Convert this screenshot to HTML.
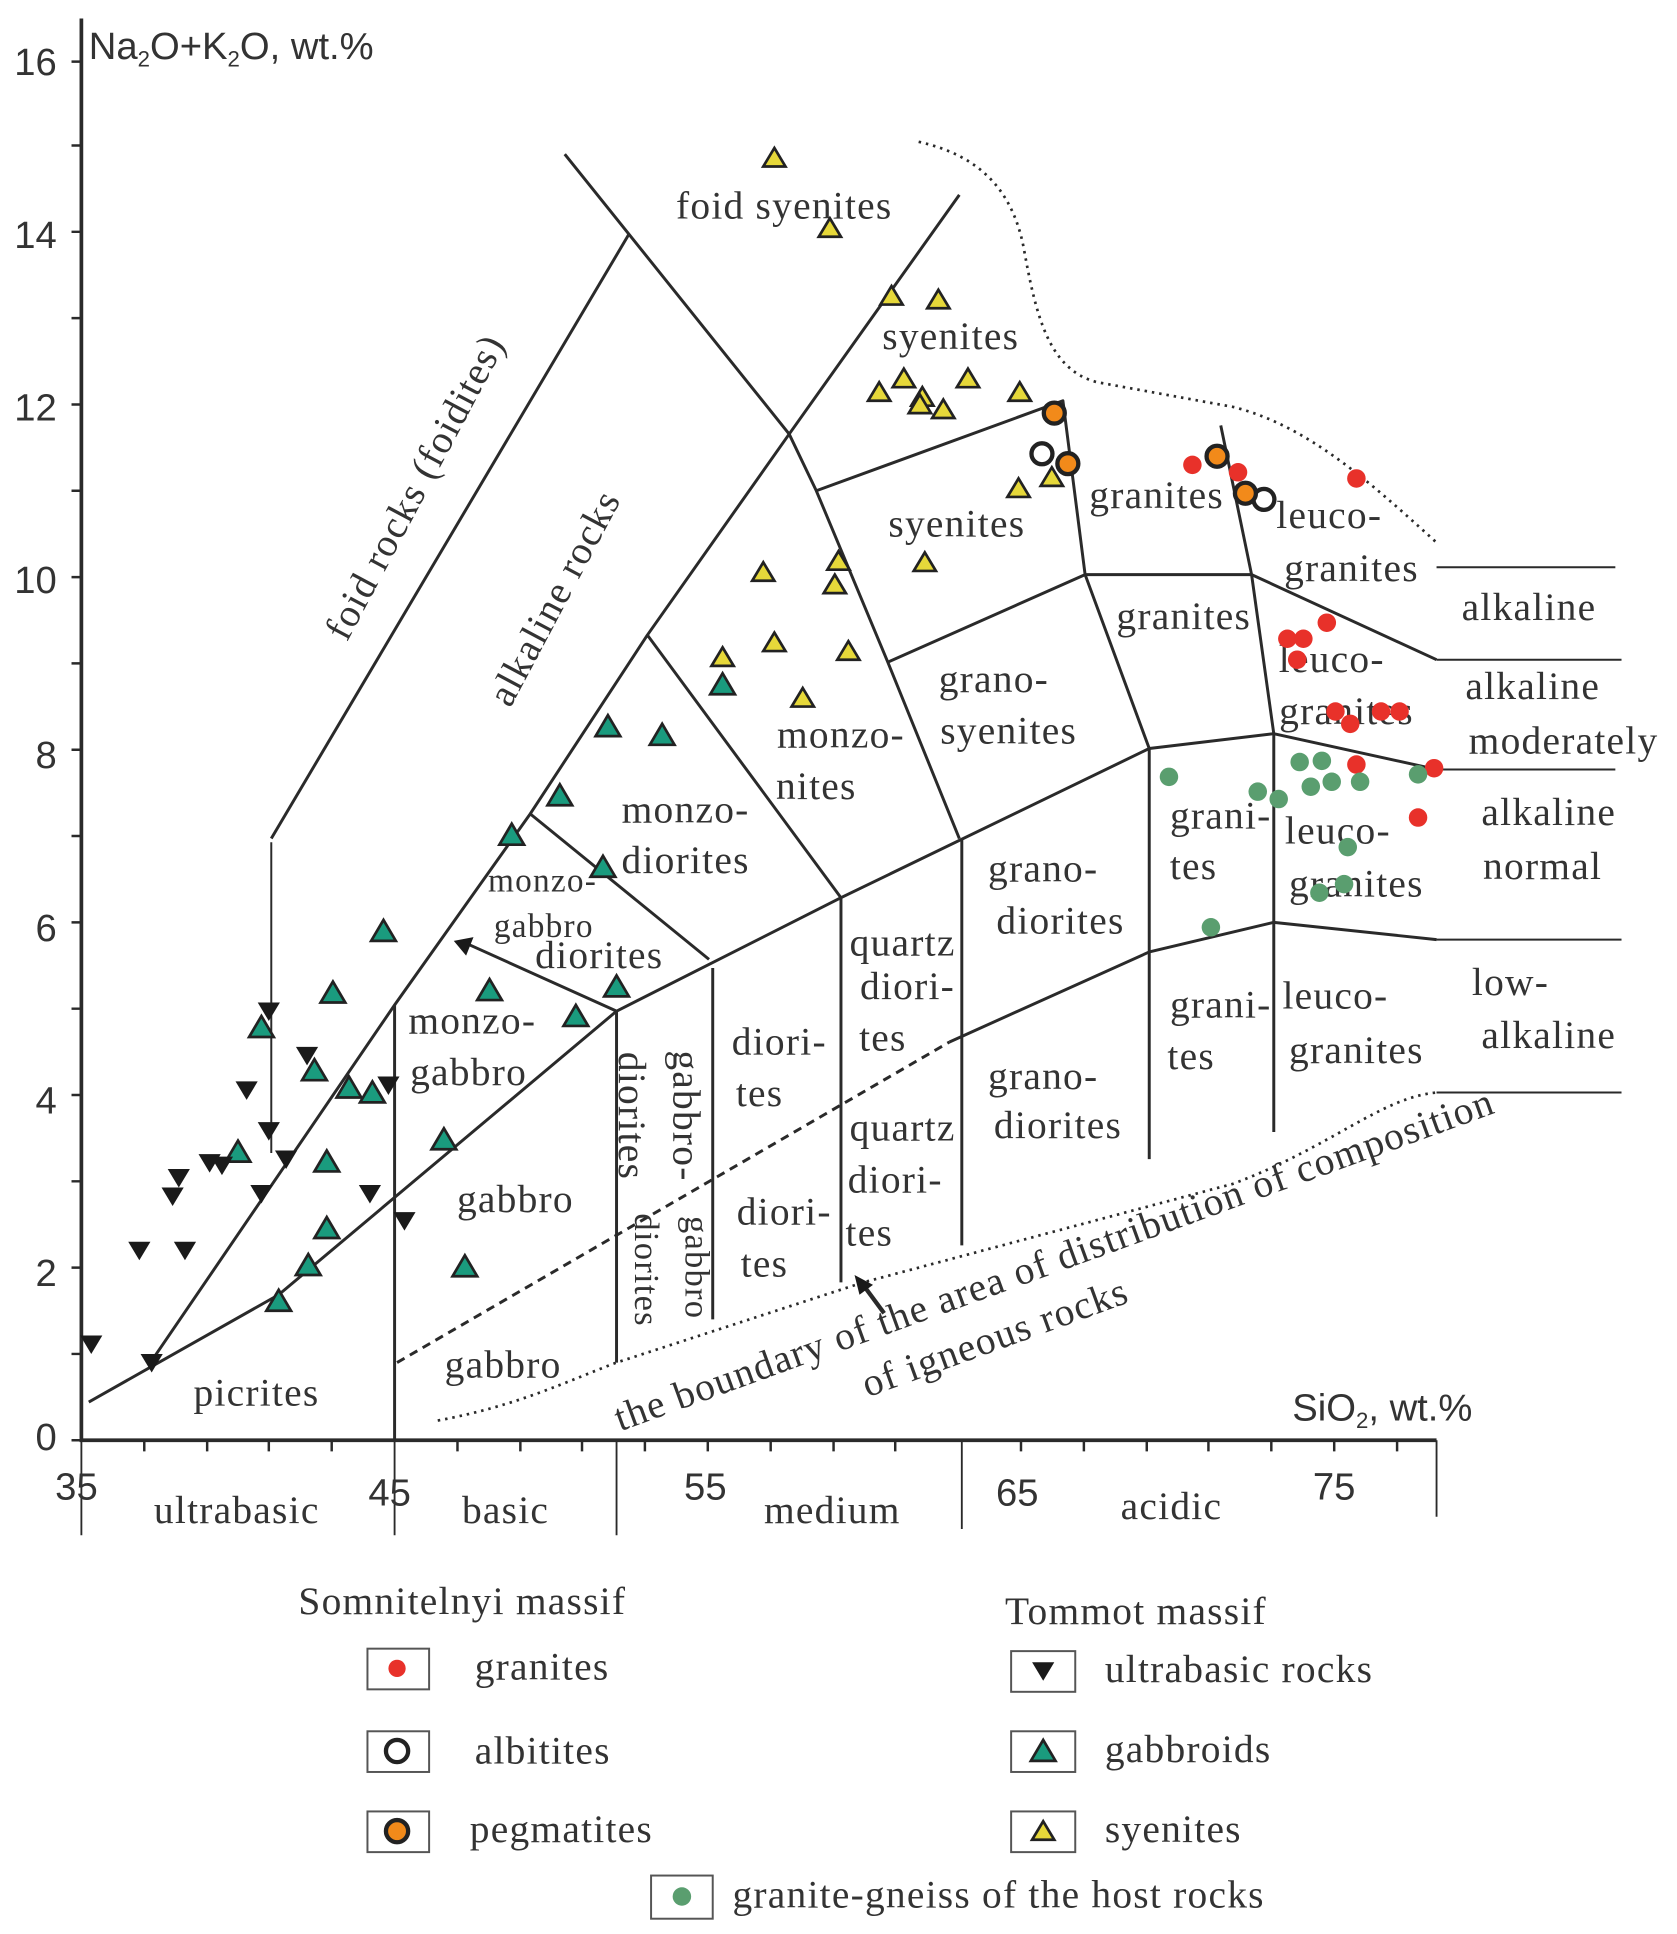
<!DOCTYPE html>
<html><head><meta charset="utf-8"><style>html,body{margin:0;padding:0;background:#fff}svg{display:block}</style></head>
<body>
<svg width="1677" height="1934" viewBox="0 0 1360 1568.4" preserveAspectRatio="none" xmlns="http://www.w3.org/2000/svg">
<defs>
<symbol id="yt" viewBox="-10 -10 20 20" overflow="visible"><polygon points="0,-8 9,7 -9,7" fill="#e6d83a" stroke="#222" stroke-width="2.2"/></symbol>
<symbol id="gt" viewBox="-10 -10 20 20" overflow="visible"><polygon points="0,-9 10,8 -10,8" fill="#1a9b7e" stroke="#222" stroke-width="2.2"/></symbol>
<symbol id="bt" viewBox="-10 -10 20 20" overflow="visible"><polygon points="-9,-7 9,-7 0,8" fill="#1a1a1a"/></symbol>
</defs>
<g stroke="#2a2a2a" fill="none" stroke-width="2.2">
<path d="M66,15 V1168 H1165" stroke-width="3"/>
<path d="M66,1168 V1245 M320,1168 V1245 M500,1168 V1245 M780,1168 V1240 M1165,1168 V1230" stroke-width="1.5"/>
</g>
<g stroke="#2a2a2a" stroke-width="2">
<path d="M58,1098H66M58,1028H66M58,958H66M58,888H66M58,818H66M58,748H66M58,678H66M58,608H66M58,538H66M58,468H66M58,398H66M58,328H66M58,258H66M58,188H66M58,118H66M58,50H66M58,1168H66"/>
<path d="M117,1168v9M168,1168v9M218,1168v9M269,1168v9M371,1168v9M422,1168v9M472,1168v9M523,1168v9M574,1168v9M625,1168v9M676,1168v9M726,1168v9M828,1168v9M879,1168v9M930,1168v9M980,1168v9M1031,1168v9M1082,1168v9M1133,1168v9"/>
</g>
<g stroke="#2a2a2a" fill="none" stroke-width="2.4" stroke-linejoin="round">
<path d="M220,680 L510,190"/>
<path d="M220,683 V935" stroke-width="1.6"/>
<path d="M122,1105 L320,815 L430,660 L525,515 L640,352 L778,158"/>
<path d="M72,1137 L226,1050 L500,820"/>
<path d="M500,820 L682,728 L932,607 L1033,595 L1165,624"/>
<path d="M458,125 L640,352 L662,398 L720,537 L778,680"/>
<path d="M662,398 L862,325 L880,466 L932,607"/>
<path d="M720,537 L880,466 L1015,466 L1165,535"/>
<path d="M990,345 L1015,466 L1033,595"/>
<path d="M430,660 L575,778"/>
<path d="M525,515 L682,728"/>
<path d="M500,820 L378,765"/>
<path d="M320,815 V1168 M500,820 V1105 M578,785 V1070 M682,728 V1040 M780,680 V1010 M932,607 V940 M1033,595 V918"/>
<path d="M770,845 L932,772 L1033,748 L1165,762"/>
<path d="M322,1105 L770,845" stroke-dasharray="7,5"/>
<path d="M1165,460H1310M1165,535H1315M1165,624H1310M1165,762H1315M1165,886H1315" stroke-width="1.6"/>
<path d="M355,1152 C420,1140 460,1120 500,1105 L700,1040 L1000,960 C1080,930 1120,890 1165,886" stroke-dasharray="2,4" stroke-width="2.2"/>
<path d="M745,115 C790,125 820,150 830,200 C840,255 850,300 890,310 L1000,330 C1060,345 1110,390 1165,440" stroke-dasharray="2,4" stroke-width="2.2"/>
<path d="M717,1065 L700,1042" stroke-width="3.5"/>
</g>
<polygon points="368,763 384,760 378,775" fill="#1a1a1a"/>
<polygon points="693,1034 708,1042 697,1050" fill="#1a1a1a"/>
<g font-family="Liberation Serif, serif" font-size="32" letter-spacing="1" fill="#333" text-anchor="middle">
<text x="636" y="177">foid syenites</text>
<text x="771" y="283">syenites</text>
<text x="776" y="435">syenites</text>
<text x="938" y="412">granites</text>
<text x="1078" y="428">leuco-</text>
<text x="1096" y="471">granites</text>
<text x="960" y="510">granites</text>
<text x="1240" y="503">alkaline</text>
<text x="1080" y="545">leuco-</text>
<text x="1092" y="587">granites</text>
<text x="1243" y="567">alkaline</text>
<text x="1268" y="611">moderately</text>
<text x="806" y="561">grano-</text>
<text x="818" y="603">syenites</text>
<text x="682" y="606">monzo-</text>
<text x="662" y="648">nites</text>
<text x="556" y="667">monzo-</text>
<text x="556" y="708">diorites</text>
<text x="440" y="723" font-size="27">monzo-</text>
<text x="441" y="760" font-size="27">gabbro</text>
<text x="486" y="785">diorites</text>
<text x="383" y="838">monzo-</text>
<text x="380" y="880">gabbro</text>
<text x="846" y="715">grano-</text>
<text x="860" y="757">diorites</text>
<text x="732" y="775">quartz</text>
<text x="736" y="810">diori-</text>
<text x="716" y="852">tes</text>
<text x="632" y="855">diori-</text>
<text x="616" y="897">tes</text>
<text x="990" y="672">grani-</text>
<text x="968" y="713">tes</text>
<text x="1085" y="684">leuco-</text>
<text x="1100" y="727">granites</text>
<text x="1256" y="669">alkaline</text>
<text x="1251" y="713">normal</text>
<text x="1225" y="807">low-</text>
<text x="1256" y="850">alkaline</text>
<text x="990" y="825">grani-</text>
<text x="966" y="867">tes</text>
<text x="1083" y="818">leuco-</text>
<text x="1100" y="862">granites</text>
<text x="846" y="883">grano-</text>
<text x="858" y="923">diorites</text>
<text x="732" y="925">quartz</text>
<text x="726" y="967">diori-</text>
<text x="705" y="1010">tes</text>
<text x="636" y="993">diori-</text>
<text x="620" y="1035">tes</text>
<text x="418" y="983">gabbro</text>
<text x="408" y="1117">gabbro</text>
<text x="208" y="1140">picrites</text>
<text transform="translate(337,395) rotate(-62)" y="10">foid rocks (foidites)</text>
<text transform="translate(450,485) rotate(-62)" y="10">alkaline rocks</text>
<text transform="translate(512,905) rotate(90)" y="10">diorites</text>
<text transform="translate(556,905) rotate(90)" y="10">gabbro-</text>
<text transform="translate(525,1030) rotate(90)" y="10" font-size="28">diorites</text>
<text transform="translate(566,1028) rotate(90)" y="10" font-size="28">gabbro</text>
<text transform="translate(855,1022) rotate(-20)" y="10">the boundary of the area of distribution of composition</text>
<text transform="translate(807,1085) rotate(-20)" y="10">of igneous rocks</text>
<text x="192" y="1235">ultrabasic</text>
<text x="410" y="1235">basic</text>
<text x="675" y="1235">medium</text>
<text x="950" y="1232">acidic</text>
</g>
<g font-family="Liberation Sans, sans-serif" font-size="31" fill="#333">
<g text-anchor="end">
<text x="46" y="61">16</text><text x="46" y="201">14</text><text x="46" y="341">12</text><text x="46" y="481">10</text>
<text x="46" y="623">8</text><text x="46" y="763">6</text><text x="46" y="903">4</text><text x="46" y="1043">2</text><text x="46" y="1176">0</text>
</g>
<g text-anchor="middle">
<text x="62" y="1216">35</text><text x="316" y="1221">45</text><text x="572" y="1216">55</text><text x="825" y="1221">65</text><text x="1082" y="1216">75</text>
</g>
<text x="72" y="48">Na<tspan font-size="18" dy="6">2</tspan><tspan dy="-6">O+K</tspan><tspan font-size="18" dy="6">2</tspan><tspan dy="-6">O, wt.%</tspan></text>
<text x="1048" y="1152">SiO<tspan font-size="18" dy="6">2</tspan><tspan dy="-6">, wt.%</tspan></text>
</g>
<g>
<use href="#yt" x="618" y="118" width="20" height="20"/><use href="#yt" x="663" y="175" width="20" height="20"/>
<use href="#yt" x="713" y="230" width="20" height="20"/><use href="#yt" x="751" y="233" width="20" height="20"/>
<use href="#yt" x="703" y="308" width="20" height="20"/><use href="#yt" x="723" y="297" width="20" height="20"/>
<use href="#yt" x="738" y="312" width="20" height="20"/><use href="#yt" x="736" y="318" width="20" height="20"/>
<use href="#yt" x="755" y="322" width="20" height="20"/><use href="#yt" x="775" y="297" width="20" height="20"/>
<use href="#yt" x="817" y="308" width="20" height="20"/><use href="#yt" x="816" y="386" width="20" height="20"/>
<use href="#yt" x="843" y="377" width="20" height="20"/><use href="#yt" x="740" y="446" width="20" height="20"/>
<use href="#yt" x="609" y="454" width="20" height="20"/><use href="#yt" x="670" y="445" width="20" height="20"/>
<use href="#yt" x="667" y="464" width="20" height="20"/><use href="#yt" x="576" y="523" width="20" height="20"/>
<use href="#yt" x="618" y="511" width="20" height="20"/><use href="#yt" x="678" y="518" width="20" height="20"/>
<use href="#yt" x="641" y="556" width="20" height="20"/>
</g>
<g>
<use href="#gt" x="576" y="545" width="20" height="20"/><use href="#gt" x="483" y="579" width="20" height="20"/>
<use href="#gt" x="527" y="586" width="20" height="20"/><use href="#gt" x="444" y="635" width="20" height="20"/>
<use href="#gt" x="479" y="693" width="20" height="20"/><use href="#gt" x="405" y="667" width="20" height="20"/>
<use href="#gt" x="301" y="745" width="20" height="20"/><use href="#gt" x="490" y="790" width="20" height="20"/>
<use href="#gt" x="457" y="814" width="20" height="20"/><use href="#gt" x="387" y="793" width="20" height="20"/>
<use href="#gt" x="260" y="795" width="20" height="20"/><use href="#gt" x="202" y="823" width="20" height="20"/>
<use href="#gt" x="245" y="858" width="20" height="20"/><use href="#gt" x="273" y="872" width="20" height="20"/>
<use href="#gt" x="292" y="876" width="20" height="20"/><use href="#gt" x="183" y="924" width="20" height="20"/>
<use href="#gt" x="255" y="932" width="20" height="20"/><use href="#gt" x="350" y="914" width="20" height="20"/>
<use href="#gt" x="255" y="986" width="20" height="20"/><use href="#gt" x="240" y="1016" width="20" height="20"/>
<use href="#gt" x="216" y="1045" width="20" height="20"/><use href="#gt" x="367" y="1017" width="20" height="20"/>
</g>
<g>
<use href="#bt" x="64" y="1080" width="20" height="20"/><use href="#bt" x="113" y="1095" width="20" height="20"/>
<use href="#bt" x="103" y="1004" width="20" height="20"/><use href="#bt" x="140" y="1004" width="20" height="20"/>
<use href="#bt" x="130" y="960" width="20" height="20"/><use href="#bt" x="135" y="945" width="20" height="20"/>
<use href="#bt" x="160" y="933" width="20" height="20"/><use href="#bt" x="170" y="935" width="20" height="20"/>
<use href="#bt" x="190" y="874" width="20" height="20"/><use href="#bt" x="239" y="846" width="20" height="20"/>
<use href="#bt" x="202" y="958" width="20" height="20"/><use href="#bt" x="208" y="810" width="20" height="20"/>
<use href="#bt" x="208" y="907" width="20" height="20"/><use href="#bt" x="222" y="930" width="20" height="20"/>
<use href="#bt" x="290" y="958" width="20" height="20"/><use href="#bt" x="305" y="870" width="20" height="20"/>
<use href="#bt" x="318" y="980" width="20" height="20"/>
</g>
<g fill="#e8312a">
<circle cx="967" cy="377" r="7.5"/><circle cx="1004" cy="383" r="7.5"/><circle cx="1100" cy="388" r="7.5"/>
<circle cx="1044" cy="518" r="7.5"/><circle cx="1057" cy="518" r="7.5"/><circle cx="1076" cy="505" r="7.5"/>
<circle cx="1052" cy="535" r="7.5"/><circle cx="1083" cy="577" r="7.5"/><circle cx="1095" cy="587" r="7.5"/>
<circle cx="1120" cy="577" r="7.5"/><circle cx="1135" cy="577" r="7.5"/><circle cx="1100" cy="620" r="7.5"/>
<circle cx="1163" cy="623" r="7.5"/><circle cx="1150" cy="663" r="7.5"/>
</g>
<g fill="#5a9e6f">
<circle cx="948" cy="630" r="7.5"/><circle cx="1020" cy="642" r="7.5"/><circle cx="1037" cy="648" r="7.5"/>
<circle cx="1054" cy="618" r="7.5"/><circle cx="1072" cy="617" r="7.5"/><circle cx="1063" cy="638" r="7.5"/>
<circle cx="1080" cy="634" r="7.5"/><circle cx="1103" cy="634" r="7.5"/><circle cx="1150" cy="628" r="7.5"/>
<circle cx="1093" cy="687" r="7.5"/><circle cx="1090" cy="717" r="7.5"/><circle cx="1070" cy="724" r="7.5"/>
<circle cx="982" cy="752" r="7.5"/>
</g>
<g stroke="#222" stroke-width="3.5">
<circle cx="845" cy="368" r="8.5" fill="#fff"/><circle cx="1025" cy="405" r="8.5" fill="#fff"/>
<circle cx="855" cy="335" r="8.5" fill="#f28a1a"/><circle cx="866" cy="376" r="8.5" fill="#f28a1a"/>
<circle cx="987" cy="370" r="8.5" fill="#f28a1a"/><circle cx="1010" cy="400" r="8.5" fill="#f28a1a"/>
</g>
<g fill="none" stroke="#555" stroke-width="1.6">
<rect x="298" y="1337" width="50" height="33"/><rect x="298" y="1404" width="50" height="33"/><rect x="298" y="1469" width="50" height="33"/>
<rect x="820" y="1339" width="52" height="33"/><rect x="820" y="1404" width="52" height="33"/><rect x="820" y="1469" width="52" height="33"/>
<rect x="528" y="1521" width="50" height="35"/>
</g>
<circle cx="322" cy="1353" r="7" fill="#e8312a"/>
<circle cx="322" cy="1420" r="9" fill="#fff" stroke="#222" stroke-width="3.5"/>
<circle cx="322" cy="1485" r="9" fill="#f28a1a" stroke="#222" stroke-width="3.5"/>
<use href="#bt" x="836" y="1345" width="20" height="20"/>
<use href="#gt" x="836" y="1410" width="20" height="20"/>
<use href="#yt" x="836" y="1475" width="20" height="20"/>
<circle cx="553" cy="1538" r="7.5" fill="#5a9e6f"/>
<g font-family="Liberation Serif, serif" font-size="32" letter-spacing="1" fill="#333">
<text x="242" y="1309">Somnitelnyi massif</text>
<text x="385" y="1362">granites</text>
<text x="385" y="1430">albitites</text>
<text x="381" y="1494">pegmatites</text>
<text x="815" y="1317">Tommot massif</text>
<text x="896" y="1364">ultrabasic rocks</text>
<text x="896" y="1429">gabbroids</text>
<text x="896" y="1494">syenites</text>
<text x="594" y="1547">granite-gneiss of the host rocks</text>
</g>
</svg>
</body></html>
